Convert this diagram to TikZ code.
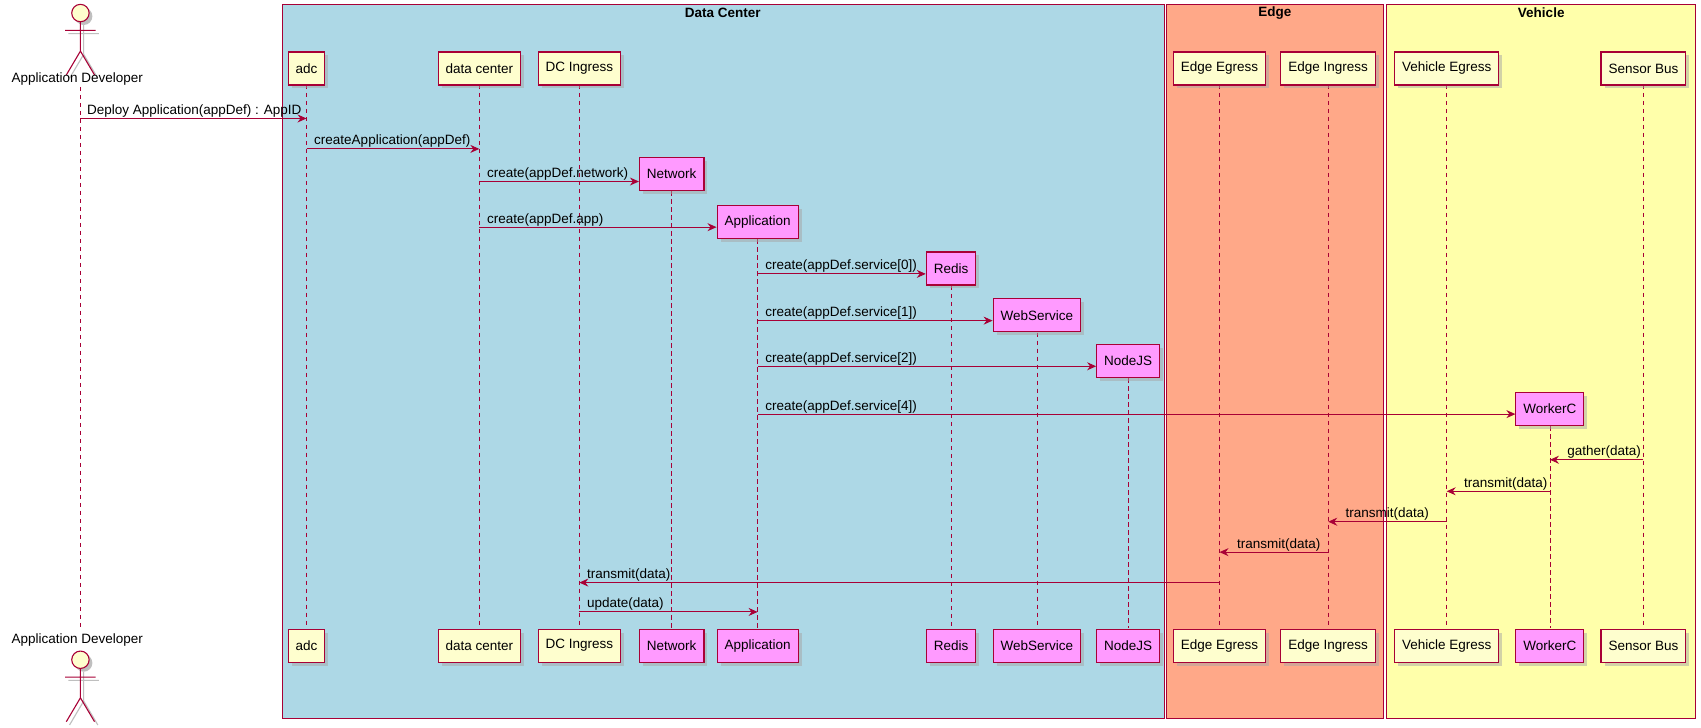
\documentclass[tikz,border=0pt]{standalone}
\usepackage{fontspec}
\setmainfont{Liberation Sans}
\usetikzlibrary{arrows.meta,shadows}
\definecolor{bd}{HTML}{A80036}
\definecolor{pf}{HTML}{FEFECE}
\definecolor{cf}{HTML}{FF9AFF}
\definecolor{gdcc}{RGB}{173,216,230}
\definecolor{gedc}{RGB}{255,168,136}
\definecolor{gvec}{RGB}{255,255,170}
\tikzset{
 every node/.style={font=\fontsize{13.5}{15}\selectfont},
 grp/.style={draw=bd,line width=0.9pt},
 part/.style={draw=bd,line width=1.1pt,fill=pf,minimum height=33pt,inner xsep=7.5pt,drop shadow={shadow xshift=3.5pt,shadow yshift=-3.5pt,fill=black!35}},
 cpart/.style={part,fill=cf},
 life/.style={draw=bd,line width=0.7pt,dash pattern=on 4.5pt off 3.5pt},
 msg/.style={draw=bd,line width=0.9pt,-{Stealth[length=9pt,width=8pt,inset=3pt]}},
 lbl/.style={anchor=south west,inner sep=1pt}
}
\begin{document}
\begin{tikzpicture}[x=1.087pt,y=-1.087pt]
\useasboundingbox (0,0) rectangle (1565,669);
\fill[white] (0,0) rectangle (1565,669);
% groups
\filldraw[grp,fill=gdcc] (260,4) rectangle (1071,661);
\filldraw[grp,fill=gedc] (1073,4) rectangle (1273,661);
\filldraw[grp,fill=gvec] (1276,4) rectangle (1560,661);
\node[font=\fontsize{13.5}{15}\selectfont\bfseries] (gdc) at (665,12) {Data Center};
\node[font=\fontsize{13.5}{15}\selectfont\bfseries] (ged) at (1173,12) {Edge};
\node[font=\fontsize{13.5}{15}\selectfont\bfseries] (gve) at (1418,12) {Vehicle};
% lifelines
\foreach \x/\t in {74/80,282/78,441/78,533/78,618/176,697/220,875/263,954/306,1038/348,1122/78,1222/78,1331/78,1426/392,1512/78}
  \draw[life] (\x,\t) -- (\x,578);
% actor
\newcommand\myactor[2]{%
 \begin{scope}[shift={(#1,#2)}]
 \fill[black!25] (3,3) circle (8);
 \draw[black!25,line width=1.1pt] (3,11) -- (3,38) (-11,19) -- (17,19) (3,38) -- (-10,60) (3,38) -- (16,60);
 \filldraw[draw=bd,fill=pf,line width=1.1pt] (0,0) circle (8);
 \draw[bd,line width=1.1pt] (0,8) -- (0,35) (-14,16) -- (14,16) (0,35) -- (-13,57) (0,35) -- (13,57);
 \end{scope}}
\myactor{74}{12}
\node (devT) at (71,73) {Application Developer};
\node (devB) at (71,589) {Application Developer};
\myactor{74}{607}
% top participants
\node[part] (adcT) at (282,63) {adc};
\node[part] (dcT) at (441,63) {data center};
\node[part] (ingT) at (533,63) {DC Ingress};
\node[part] (eeT) at (1122,63) {Edge Egress};
\node[part] (eiT) at (1222,63) {Edge Ingress};
\node[part] (veT) at (1331,63) {Vehicle Egress};
\node[part] (sbT) at (1512,63) {Sensor Bus};
% created
\node[cpart] (netT) at (618,160) {Network};
\node[cpart] (appT) at (697,204) {Application};
\node[cpart] (redT) at (875,247) {Redis};
\node[cpart] (wsT) at (954,290) {WebService};
\node[cpart] (njT) at (1038,332) {NodeJS};
\node[cpart] (wcT) at (1426,376) {WorkerC};
% bottom participants
\node[part] (adcB) at (282,594) {adc};
\node[part] (dcB) at (441,594) {data center};
\node[part] (ingB) at (533,594) {DC Ingress};
\node[cpart] (netB) at (618,594) {Network};
\node[cpart] (appB) at (697,594) {Application};
\node[cpart] (redB) at (875,594) {Redis};
\node[cpart] (wsB) at (954,594) {WebService};
\node[cpart] (njB) at (1038,594) {NodeJS};
\node[part] (eeB) at (1122,594) {Edge Egress};
\node[part] (eiB) at (1222,594) {Edge Ingress};
\node[part] (veB) at (1331,594) {Vehicle Egress};
\node[cpart] (wcB) at (1426,594) {WorkerC};
\node[part] (sbB) at (1512,594) {Sensor Bus};
% messages
\draw[msg] (74,109) -- (adcT.center |- 0,109);
\node[lbl] (m1) at (79,109) {Deploy Application(appDef) : AppID};
\draw[msg] (282,137) -- (dcT.center |- 0,137);
\node[lbl] (m2) at (288,137) {createApplication(appDef)};
\draw[msg] (441,167) -- (netT.west |- 0,167);
\node[lbl] (m3) at (447,167) {create(appDef.network)};
\draw[msg] (441,209) -- (appT.west |- 0,209);
\node[lbl] (m4) at (447,209) {create(appDef.app)};
\draw[msg] (697,252) -- (redT.west |- 0,252);
\node[lbl] (m5) at (703,252) {create(appDef.service[0])};
\draw[msg] (697,295) -- (wsT.west |- 0,295);
\node[lbl] (m6) at (703,295) {create(appDef.service[1])};
\draw[msg] (697,337) -- (njT.west |- 0,337);
\node[lbl] (m7) at (703,337) {create(appDef.service[2])};
\draw[msg] (697,381) -- (wcT.west |- 0,381);
\node[lbl] (m8) at (703,381) {create(appDef.service[4])};
\draw[msg] (1512,423) -- (1426,423);
\node[lbl] (m9) at (1441,423) {gather(data)};
\draw[msg] (1426,452) -- (1331,452);
\node[lbl] (m10) at (1346,452) {transmit(data)};
\draw[msg] (1331,480) -- (1222,480);
\node[lbl] (m11) at (1237,480) {transmit(data)};
\draw[msg] (1222,508) -- (1122,508);
\node[lbl] (m12) at (1137,508) {transmit(data)};
\draw[msg] (1122,536) -- (533,536);
\node[lbl] (m13) at (539,536) {transmit(data)};
\draw[msg] (533,563) -- (697,563);
\node[lbl] (m14) at (539,563) {update(data)};
\end{tikzpicture}
\end{document}
